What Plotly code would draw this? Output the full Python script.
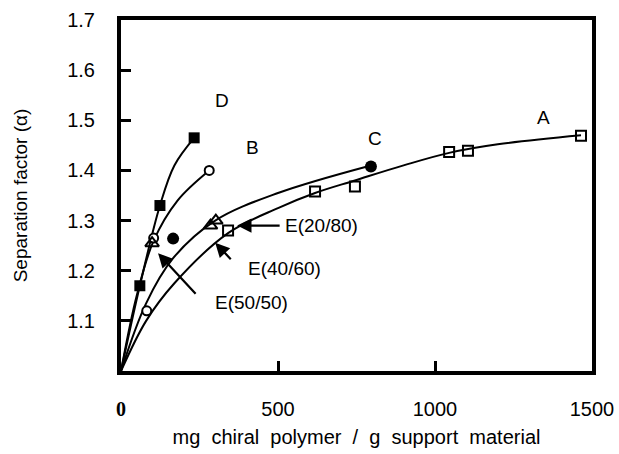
import plotly.graph_objects as go

# ---- data ----
# Curve A (open squares)
A_x = [341, 618, 745, 1045, 1105, 1465]
A_y = [1.28, 1.358, 1.368, 1.437, 1.439, 1.469]
A_curve_x = [0, 80, 170, 341, 500, 618, 745, 900, 1045, 1200, 1465]
A_curve_y = [1.0, 1.10, 1.175, 1.275, 1.325, 1.355, 1.38, 1.41, 1.435, 1.452, 1.47]

# Curve B (open circles)
B_x = [82, 104, 281]
B_y = [1.12, 1.265, 1.40]
B_curve_x = [0, 50, 104, 180, 281]
B_curve_y = [1.0, 1.15, 1.26, 1.34, 1.40]

# Curve C (filled circles)
C_x = [166, 796]
C_y = [1.264, 1.408]
C_curve_x = [0, 80, 166, 300, 500, 796]
C_curve_y = [1.0, 1.135, 1.225, 1.30, 1.355, 1.41]

# Curve D (filled squares)
D_x = [60, 124, 233]
D_y = [1.17, 1.33, 1.465]
D_curve_x = [0, 60, 124, 170, 233]
D_curve_y = [1.0, 1.17, 1.33, 1.41, 1.465]

# E points (open triangles)
E_x = [99, 285, 302]
E_y = [1.255, 1.29, 1.30]

x_tickvals = [0, 500, 1000, 1500]
x_ticktext = ["<span style='font-family:Liberation Serif'><b>0</b></span>", "500", "1000", "1500"]
y_tickvals = [1.1, 1.2, 1.3, 1.4, 1.5, 1.6, 1.7]
y_ticktext = ["1.1", "1.2", "1.3", "1.4", "1.5", "1.6", "1.7"]

FONT = "Liberation Sans, Arial, sans-serif"
fig = go.Figure()

for cx, cy in [(A_curve_x, A_curve_y), (B_curve_x, B_curve_y),
               (C_curve_x, C_curve_y), (D_curve_x, D_curve_y)]:
    fig.add_trace(go.Scatter(x=cx, y=cy, mode="lines",
                             line=dict(color="black", width=2, shape="spline", smoothing=1.0),
                             hoverinfo="skip", showlegend=False))

fig.add_trace(go.Scatter(x=A_x, y=A_y, mode="markers", showlegend=False,
                         marker=dict(symbol="square-open", size=10, color="black", line=dict(width=2))))
fig.add_trace(go.Scatter(x=B_x, y=B_y, mode="markers", showlegend=False,
                         marker=dict(symbol="circle", size=9, color="white", line=dict(width=2, color="black"))))
fig.add_trace(go.Scatter(x=C_x, y=C_y, mode="markers", showlegend=False,
                         marker=dict(symbol="circle", size=12, color="black")))
fig.add_trace(go.Scatter(x=D_x, y=D_y, mode="markers", showlegend=False,
                         marker=dict(symbol="square", size=11, color="black")))
fig.add_trace(go.Scatter(x=E_x, y=E_y, mode="markers", showlegend=False,
                         marker=dict(symbol="triangle-up-open", size=12, color="black", line=dict(width=2))))

ann = []
for txt, x, y in [("D", 322, 1.539), ("B", 420, 1.445), ("C", 809, 1.463), ("A", 1344, 1.505),
                  ("E(20/80)", 640, 1.29), ("E(40/60)", 522, 1.205), ("E(50/50)", 417, 1.137)]:
    ann.append(dict(x=x, y=y, xref="x", yref="y", text=txt, showarrow=False,
                    font=dict(family=FONT, size=19, color="black")))

for (tx, ty, hx, hy) in [(370, 1.29, 510, 1.29), (300, 1.256, 354, 1.22), (118, 1.235, 242, 1.151)]:
    ann.append(dict(x=tx, y=ty, ax=hx, ay=hy, xref="x", yref="y", axref="x", ayref="y",
                    text="", showarrow=True, arrowhead=2, arrowsize=1.3, arrowwidth=2.2,
                    arrowcolor="black"))

fig.update_layout(
    width=619, height=454,
    margin=dict(l=121, r=27, t=20, b=83, autoexpand=False),
    paper_bgcolor="white", plot_bgcolor="white",
    font=dict(family=FONT, size=19, color="black"),
    annotations=ann,
    xaxis=dict(range=[0, 1500], tickvals=x_tickvals, ticktext=x_ticktext,
               ticks="inside", ticklen=10, tickwidth=3, tickcolor="black",
               showline=True, linewidth=4, linecolor="black", mirror=True,
               showgrid=False, zeroline=False, ticklabelstandoff=17, automargin=False,
               tickfont=dict(family=FONT, size=20),
               title=dict(text="mg  chiral  polymer  /  g  support  material",
                          font=dict(family=FONT, size=20), standoff=12)),
    yaxis=dict(range=[1.0, 1.7], tickvals=y_tickvals, ticktext=y_ticktext,
               ticks="inside", ticklen=10, tickwidth=3, tickcolor="black",
               showline=True, linewidth=4, linecolor="black", mirror=True,
               showgrid=False, zeroline=False, ticklabelstandoff=18, automargin=False,
               tickfont=dict(family=FONT, size=20),
               title=dict(text="Separation factor (α)",
                          font=dict(family=FONT, size=19), standoff=36)),
)

# remove the browser's default 8 px body margin so the 619x454 figure fills the window exactly
fig.write_html("out.html", config={"displayModeBar": False},
               post_script="document.body.style.margin='0';document.body.style.overflow='hidden';")
